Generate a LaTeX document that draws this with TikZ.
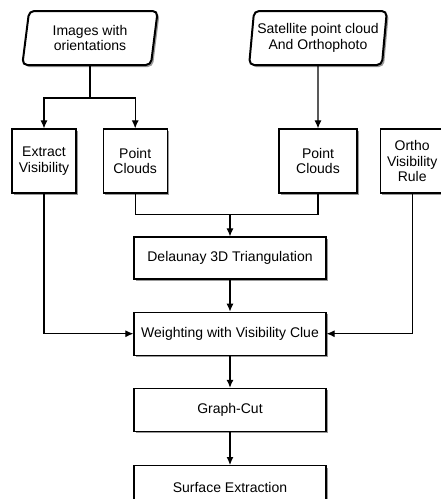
\documentclass[tikz,border=0pt]{standalone}
\usepackage{fontspec}
\setmainfont{Liberation Sans}
\usetikzlibrary{positioning}
\usetikzlibrary{shapes.geometric, arrows.meta, shadows}
\definecolor{d00}{rgb}{0.00, 0.00, 0.00}
\definecolor{d01}{rgb}{0.60, 0.60, 0.60}
\definecolor{d02}{rgb}{1.00, 1.00, 1.00}
\tikzstyle{Line} = [draw, d00, line width=1.1pt, -{Latex[length=8pt, width=7pt]}]
\tikzstyle{Link} = [draw, d00, line width=1.1pt]
\tikzstyle{prect} = [draw, rectangle, d00, fill=d02, line width=1.2pt,
    align=center, inner sep=2pt, text centered,
    drop shadow={shadow xshift=2pt, shadow yshift=-2pt, fill=d01, opacity=1}]
\tikzstyle{para} = [draw, trapezium, d00, fill=d02, line width=2pt,
    trapezium left angle=82, trapezium right angle=98,
    trapezium stretches=true, rounded corners=5pt,
    minimum width=136pt, minimum height=54pt, align=center,
    drop shadow={shadow xshift=2pt, shadow yshift=-2pt, fill=d01, opacity=1}]

\begin{document}
\begin{tikzpicture}[x=1pt, y=1pt, node distance=32pt,
    font=\fontsize{14}{15.5}\selectfont]
     % ><>< =================== ><>< %
     % ><><    Picture frame    ><>< %
     % ><>< =================== ><>< %
     \clip (0,0) rectangle (441,-499);
     \fill [white] (0,0) rectangle (441,-499);
     % ><>< =================== ><>< %
     % ><><     Place nodes     ><>< %
     % ><>< =================== ><>< %
     \node [para] (imgs) at (90,-38) {Images with\\orientations};
     \node [para, minimum width=138pt] (sat) at (318,-38)
        {Satellite point cloud\\And Orthophoto};
     \node [prect, minimum width=64pt, minimum height=64pt] (extract)
        at (44,-161) {Extract\\Visibility};
     \node [prect, minimum width=64pt, minimum height=64pt,
        right=26pt of extract] (pcl) {Point\\Clouds};
     \node [prect, minimum width=78pt, minimum height=64pt] (pcr)
        at (318,-161) {Point\\Clouds};
     \node [prect, minimum width=64pt, minimum height=64pt,
        right=22pt of pcr] (ortho) {Ortho\\Visibility\\Rule};
     \node [prect, minimum width=192pt, minimum height=42pt] (delaunay)
        at (230,-258) {Delaunay 3D Triangulation};
     \node [prect, minimum width=192pt, minimum height=43pt,
        below=of delaunay] (weight) {Weighting with Visibility Clue};
     \node [prect, minimum width=192pt, minimum height=43pt,
        below=of weight] (graphcut) {Graph-Cut};
     \node [prect, minimum width=192pt, minimum height=43pt,
        below=33pt of graphcut] (surface) {Surface Extraction};
     \coordinate (split) at ([yshift=-32pt]imgs.south);
     \coordinate (merge) at ([yshift=22pt]delaunay.north);
     % ><>< =================== ><>< %
     % ><><     Draw lines.     ><>< %
     % ><>< =================== ><>< %
     \path [Link] (imgs.south) -- (split);
     \path [Line] (split) -| (extract.north);
     \path [Line] (split) -| (pcl.north);
     \path [Line] (sat) -- (pcr);
     \path [Link] (pcl.south) |- (merge);
     \path [Link] (pcr.south) |- (merge);
     \path [Line] (merge) -- (delaunay);
     \path [Line] (delaunay) -- (weight);
     \path [Line] (extract.south) |- (weight.west);
     \path [Line] (ortho.south) |- (weight.east);
     \path [Line] (weight) -- (graphcut);
     \path [Line] (graphcut) -- (surface);
\end{tikzpicture}
\end{document}
